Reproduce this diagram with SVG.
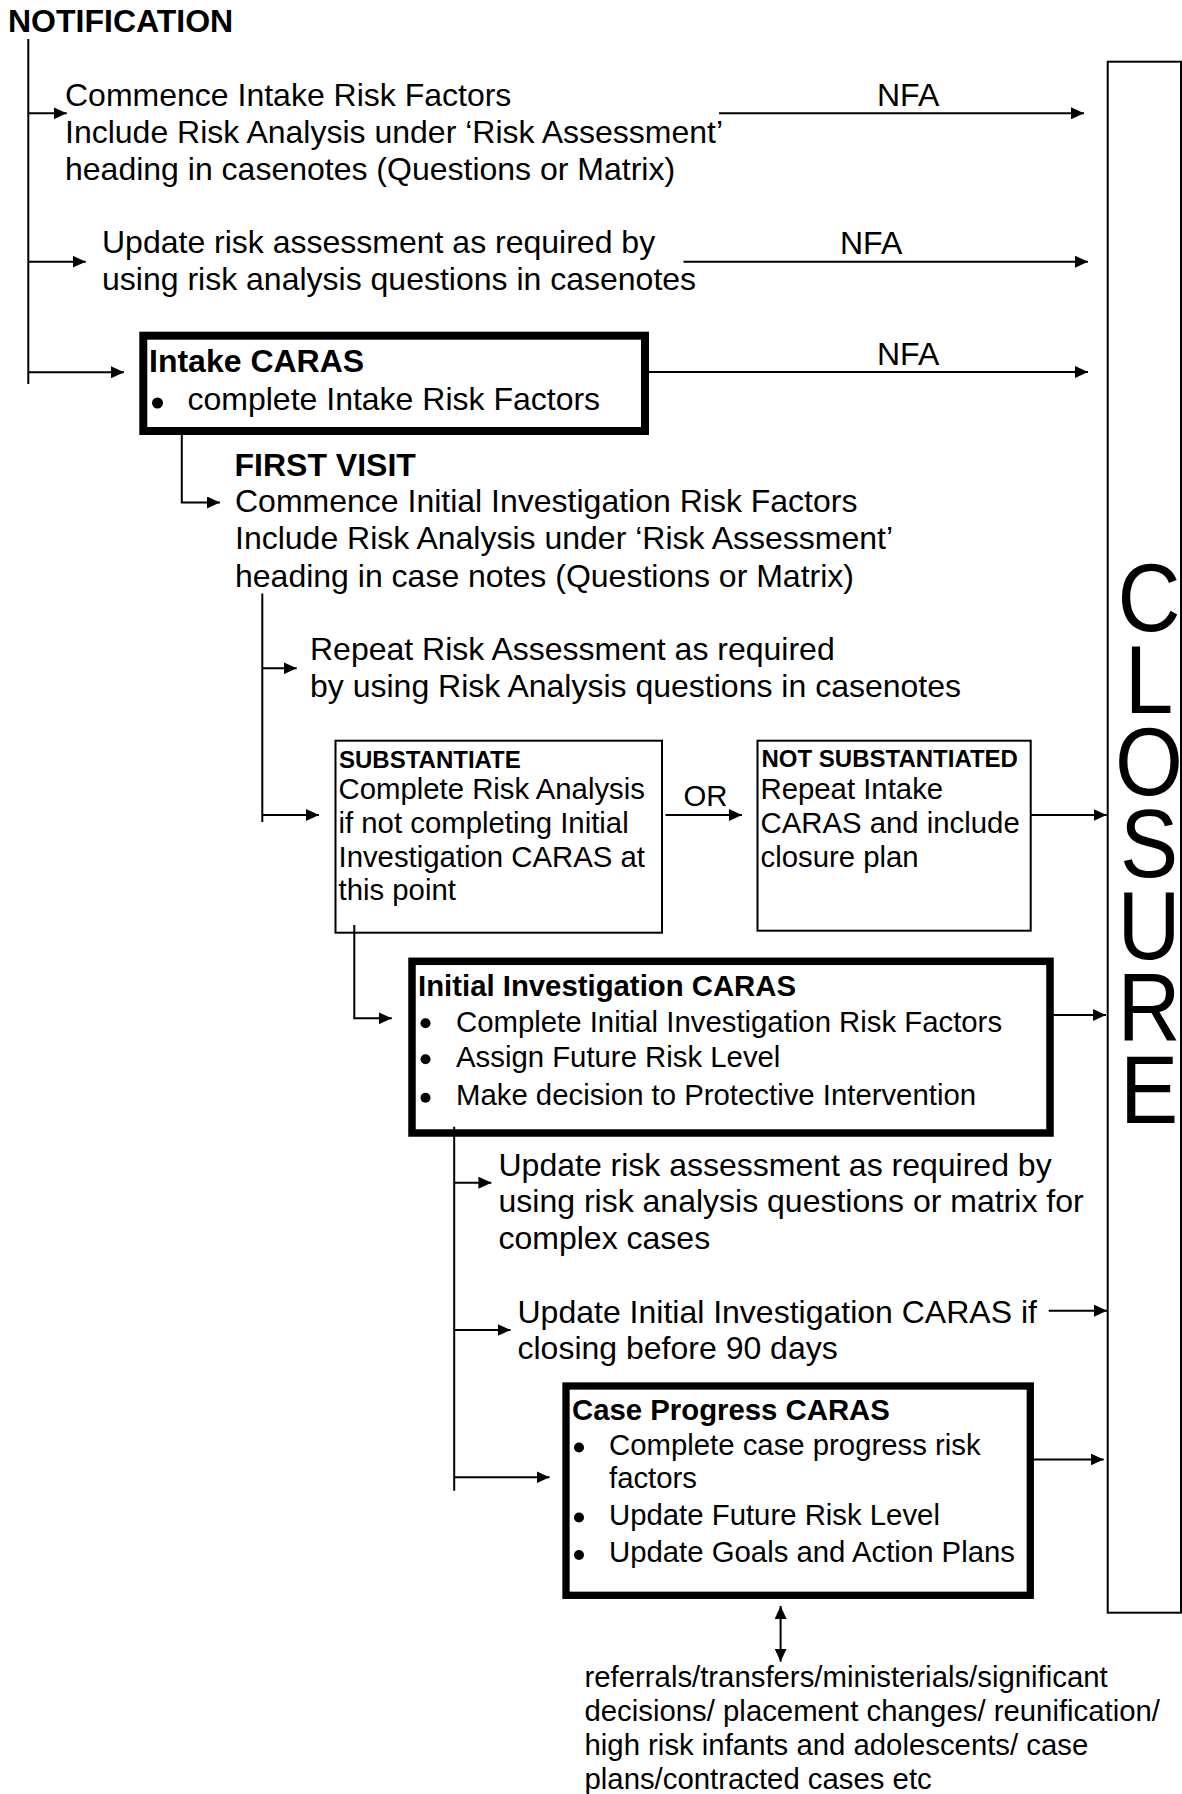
<svg xmlns="http://www.w3.org/2000/svg" width="1182" height="1794" viewBox="0 0 1182 1794">
<defs>
<style>
.t{font-family:"Liberation Sans",Arial,sans-serif;font-size:32px;fill:#000}
.b{font-weight:bold}
.s{font-size:29.33px}
.xs{font-size:24px}
.bul{fill:#000}
.ln{stroke:#000;stroke-width:2;fill:none}
.ar{marker-end:url(#ah)}
.da{marker-start:url(#ah);marker-end:url(#ah)}
.thick{fill:#fff;stroke:#000}
.thin{fill:#fff;stroke:#000;stroke-width:2}
.big{font-family:"Liberation Sans",Arial,sans-serif;font-size:97px;fill:#000;text-anchor:middle}
</style>
<marker id="ah" markerUnits="userSpaceOnUse" markerWidth="13" markerHeight="12" refX="13" refY="6" orient="auto-start-reverse">
<path d="M0,0 L13,6 L0,12 z" fill="#000"/>
</marker>
</defs>
<rect width="1182" height="1794" fill="#fff"/>

<g id="notification"><text class="t b" x="8" y="32">NOTIFICATION</text></g>

<g id="intake-risk-factors">
<text class="t" x="65" y="106">Commence Intake Risk Factors</text>
<text class="t" x="65" y="143">Include Risk Analysis under ‘Risk Assessment’</text>
<text class="t" x="65" y="180">heading in casenotes (Questions or Matrix)</text>
</g>

<g id="update-risk-1">
<text class="t" x="102" y="253.3">Update risk assessment as required by</text>
<text class="t" x="102" y="290">using risk analysis questions in casenotes</text>
</g>

<g id="intake-caras">
<rect class="thick" x="143.3" y="335.7" width="501.7" height="95.3" stroke-width="8"/>
<text class="t b" x="149" y="371.7">Intake CARAS</text>
<circle class="bul" cx="157.5" cy="403" r="5.5"/>
<text class="t" x="187.5" y="410">complete Intake Risk Factors</text>
</g>

<g id="first-visit">
<text class="t b" x="234.5" y="476">FIRST VISIT</text>
<text class="t" x="235" y="512.3">Commence Initial Investigation Risk Factors</text>
<text class="t" x="235" y="549.3">Include Risk Analysis under ‘Risk Assessment’</text>
<text class="t" x="235" y="586.5">heading in case notes (Questions or Matrix)</text>
</g>

<g id="repeat-risk">
<text class="t" x="310" y="660">Repeat Risk Assessment as required</text>
<text class="t" x="310" y="697">by using Risk Analysis questions in casenotes</text>
</g>

<g id="substantiate">
<rect class="thin" x="335.5" y="740.7" width="326.5" height="192"/>
<text class="t b xs" x="339" y="767.7">SUBSTANTIATE</text>
<text class="t s" x="338.5" y="799">Complete Risk Analysis</text>
<text class="t s" x="338.5" y="832.7">if not completing Initial</text>
<text class="t s" x="338.5" y="866.5">Investigation CARAS at</text>
<text class="t s" x="338.5" y="900">this point</text>
</g>

<g id="not-substantiated">
<rect class="thin" x="757.5" y="740.7" width="273.2" height="190"/>
<text class="t b xs" x="761.5" y="766.7">NOT SUBSTANTIATED</text>
<text class="t s" x="760.5" y="799">Repeat Intake</text>
<text class="t s" x="760.5" y="832.7">CARAS and include</text>
<text class="t s" x="760.5" y="866.5">closure plan</text>
</g>

<g id="initial-investigation-caras">
<rect class="thick" x="412" y="961.3" width="638" height="171.7" stroke-width="7.5"/>
<text class="t b s" x="418" y="996">Initial Investigation CARAS</text>
<circle class="bul" cx="425.5" cy="1023.3" r="5"/>
<circle class="bul" cx="425.5" cy="1059.3" r="5"/>
<circle class="bul" cx="425.5" cy="1097.7" r="5"/>
<text class="t s" x="456" y="1031.7">Complete Initial Investigation Risk Factors</text>
<text class="t s" x="456" y="1066.7">Assign Future Risk Level</text>
<text class="t s" x="456" y="1105">Make decision to Protective Intervention</text>
</g>

<g id="update-risk-2">
<text class="t" x="498.5" y="1175.7">Update risk assessment as required by</text>
<text class="t" x="498.5" y="1212">using risk analysis questions or matrix for</text>
<text class="t" x="498.5" y="1248.5">complex cases</text>
</g>

<g id="update-ii-caras">
<text class="t" x="517.5" y="1322.7">Update Initial Investigation CARAS if</text>
<text class="t" x="517.5" y="1359.3">closing before 90 days</text>
</g>

<g id="case-progress-caras">
<rect class="thick" x="566" y="1386" width="464.3" height="209.3" stroke-width="7.3"/>
<text class="t b s" x="572" y="1419.5">Case Progress CARAS</text>
<circle class="bul" cx="579" cy="1447.5" r="5"/>
<circle class="bul" cx="579" cy="1517.5" r="5"/>
<circle class="bul" cx="579" cy="1555" r="5"/>
<text class="t s" x="609" y="1455">Complete case progress risk</text>
<text class="t s" x="609" y="1488.3">factors</text>
<text class="t s" x="609" y="1525">Update Future Risk Level</text>
<text class="t s" x="609" y="1562.3">Update Goals and Action Plans</text>
</g>

<g id="closure">
<rect class="thin" x="1107.7" y="61.7" width="73.3" height="1551"/>
<g transform="translate(1149,0) scale(0.9,1)">
<text class="big" x="0" y="631.3">C<tspan x="0" dy="82">L</tspan><tspan x="0" dy="82">O</tspan><tspan x="0" dy="82">S</tspan><tspan x="0" dy="82">U</tspan><tspan x="0" dy="82">R</tspan><tspan x="0" dy="82">E</tspan></text>
</g>
</g>

<g id="referrals">
<text class="t s" x="584.5" y="1687">referrals/transfers/ministerials/significant</text>
<text class="t s" x="584.5" y="1721.3">decisions/ placement changes/ reunification/</text>
<text class="t s" x="584.5" y="1755">high risk infants and adolescents/ case</text>
<text class="t s" x="584.5" y="1788.5">plans/contracted cases etc</text>
</g>

<g id="connectors">
<path class="ln" d="M28.3,39 V384"/>
<path class="ln ar" d="M28.3,113.3 H66.7"/>
<path class="ln ar" d="M28.3,261.7 H85.7"/>
<path class="ln ar" d="M28.3,372.3 H124"/>
<path class="ln ar" d="M719,113.3 H1084"/>
<path class="ln ar" d="M683.5,261.7 H1088"/>
<path class="ln ar" d="M649,372 H1088"/>
<path class="ln ar" d="M181.8,435 V502.5 H220"/>
<path class="ln" d="M262.3,593.5 V822"/>
<path class="ln ar" d="M262.3,668.3 H296.7"/>
<path class="ln ar" d="M262.3,815 H319"/>
<path class="ln ar" d="M665.5,815 H742"/>
<path class="ln ar" d="M1030.7,815 H1106.7"/>
<path class="ln ar" d="M354.3,925 V1018.3 H391.8"/>
<path class="ln ar" d="M1053.3,1015 H1106"/>
<path class="ln" d="M454.2,1126.7 V1490.7"/>
<path class="ln ar" d="M454.2,1182.7 H491.4"/>
<path class="ln ar" d="M454.2,1330 H510.5"/>
<path class="ln ar" d="M454.2,1477.3 H549.5"/>
<path class="ln ar" d="M1048.7,1310.7 H1107"/>
<path class="ln ar" d="M1034,1459.5 H1103.7"/>
<path class="ln da" d="M780.6,1606 V1661.7"/>
<text class="t" x="877" y="106">NFA</text>
<text class="t" x="840" y="254">NFA</text>
<text class="t" x="877" y="365">NFA</text>
<text class="t s" x="683.5" y="806">OR</text>
</g>
</svg>
